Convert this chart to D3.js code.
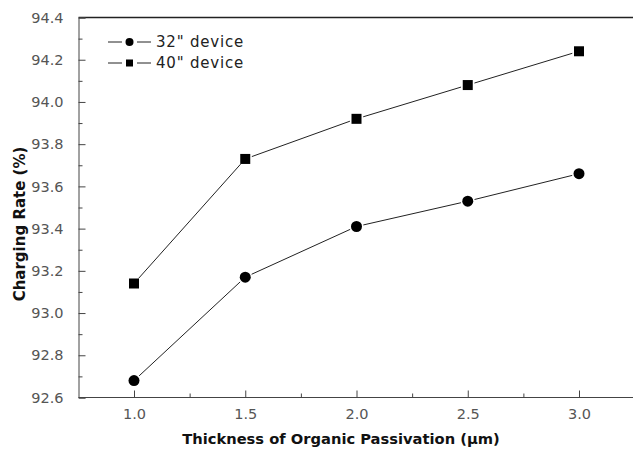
<!DOCTYPE html>
<html>
<head>
<meta charset="utf-8">
<script src="https://cdn.jsdelivr.net/npm/d3@7"></script>
<style>
  html, body { margin: 0; padding: 0; background: #fff; }
  svg { display: block; }
</style>
</head>
<body>
<svg id="chart" width="633" height="457"></svg>
<script>
const thickness = [1.0, 1.5, 2.0, 2.5, 3.0];
const device32 = [92.68, 93.17, 93.41, 93.53, 93.66];
const device40 = [93.14, 93.73, 93.92, 94.08, 94.24];
const seriesNames = ['32" device', '40" device'];
const xTicks = [1.0, 1.5, 2.0, 2.5, 3.0];
const xMinorTicks = [1.25, 1.75, 2.25, 2.75];
const yTicks = [92.6, 92.8, 93.0, 93.2, 93.4, 93.6, 93.8, 94.0, 94.2, 94.4];
const yMinorTicks = [92.7, 92.9, 93.1, 93.3, 93.5, 93.7, 93.9, 94.1, 94.3];
const xTitle = "Thickness of Organic Passivation (\u00b5m)";
const yTitle = "Charging Rate (%)";

const svg = d3.select("#chart");
const mLeft = 78.5, mTop = 17.5, mBottom = 397.5, mRight = 640;
const font = "'DejaVu Sans', sans-serif";

const x = d3.scaleLinear().domain([1.0, 3.0]).range([134, 579]);
const y = d3.scaleLinear().domain([92.6, 94.4]).range([mBottom, mTop]);

// frame: top line
svg.append("line").attr("x1", mLeft).attr("x2", mRight).attr("y1", mTop).attr("y2", mTop)
  .attr("stroke", "#222").attr("stroke-width", 1.5);

// y axis
const yAxis = svg.append("g").attr("transform", `translate(${mLeft},0)`)
  .call(d3.axisLeft(y).tickValues(yTicks).tickFormat(d3.format(".1f")).tickSize(-7).tickPadding(15));
yAxis.select(".domain").attr("stroke", "#444");
yAxis.selectAll(".tick line").attr("stroke", "#444");
yAxis.selectAll("text").attr("font-family", font).attr("font-size", 14.5).attr("fill", "#555");
const yMinor = svg.append("g").attr("transform", `translate(${mLeft},0)`)
  .call(d3.axisLeft(y).tickValues(yMinorTicks).tickFormat("").tickSize(-4));
yMinor.select(".domain").remove();
yMinor.selectAll(".tick line").attr("stroke", "#444");

// x axis
const xAxis = svg.append("g").attr("transform", `translate(0,${mBottom})`)
  .call(d3.axisBottom(x).tickValues(xTicks).tickFormat(d3.format(".1f")).tickSize(-7).tickPadding(11));
xAxis.select(".domain").attr("d", `M${mLeft},0H${mRight}`).attr("stroke", "#444");
xAxis.selectAll(".tick line").attr("stroke", "#444");
xAxis.selectAll("text").attr("font-family", font).attr("font-size", 14.5).attr("fill", "#555");
const xMinor = svg.append("g").attr("transform", `translate(0,${mBottom})`)
  .call(d3.axisBottom(x).tickValues(xMinorTicks).tickFormat("").tickSize(-4));
xMinor.select(".domain").remove();
xMinor.selectAll(".tick line").attr("stroke", "#444");

// titles
svg.append("text").attr("x", 341).attr("y", 444).attr("text-anchor", "middle")
  .attr("font-family", font).attr("font-weight", "bold").attr("font-size", 14.7)
  .attr("fill", "#111").text(xTitle);
svg.append("text").attr("transform", "translate(25,224) rotate(-90)").attr("text-anchor", "middle")
  .attr("font-family", font).attr("font-weight", "bold").attr("font-size", 15)
  .attr("fill", "#111").text(yTitle);

// series
const gap = 7;
function drawSeries(vals, shape) {
  const pts = thickness.map((t, i) => [x(t), y(vals[i])]);
  const g = svg.append("g");
  for (let i = 0; i < pts.length - 1; i++) {
    const [x1, y1] = pts[i], [x2, y2] = pts[i + 1];
    const dx = x2 - x1, dy = y2 - y1, L = Math.hypot(dx, dy);
    const ux = dx / L, uy = dy / L;
    g.append("line")
      .attr("x1", x1 + ux * gap).attr("y1", y1 + uy * gap)
      .attr("x2", x2 - ux * gap).attr("y2", y2 - uy * gap)
      .attr("stroke", "#222").attr("stroke-width", 1);
  }
  if (shape === "circle") {
    g.selectAll("circle").data(pts).join("circle")
      .attr("cx", d => d[0]).attr("cy", d => d[1]).attr("r", 5.5).attr("fill", "#000");
  } else {
    g.selectAll("rect").data(pts).join("rect")
      .attr("x", d => d[0] - 5).attr("y", d => d[1] - 5).attr("width", 10).attr("height", 10).attr("fill", "#000");
  }
}
drawSeries(device32, "circle");
drawSeries(device40, "square");

// legend
const legendRows = [{name: seriesNames[0], shape: "circle", yy: 42}, {name: seriesNames[1], shape: "square", yy: 63}];
legendRows.forEach(r => {
  const g = svg.append("g");
  g.append("line").attr("x1", 108).attr("x2", 122).attr("y1", r.yy).attr("y2", r.yy).attr("stroke", "#222");
  g.append("line").attr("x1", 137).attr("x2", 151).attr("y1", r.yy).attr("y2", r.yy).attr("stroke", "#222");
  if (r.shape === "circle") g.append("circle").attr("cx", 129.5).attr("cy", r.yy).attr("r", 4).attr("fill", "#000");
  else g.append("rect").attr("x", 126).attr("y", r.yy - 3.5).attr("width", 7).attr("height", 7).attr("fill", "#000");
  g.append("text").attr("x", 156).attr("y", r.yy + 5).attr("font-family", font).attr("font-size", 15)
    .attr("letter-spacing", 0.8).attr("fill", "#222").text(r.name);
});
</script>
</body>
</html>
